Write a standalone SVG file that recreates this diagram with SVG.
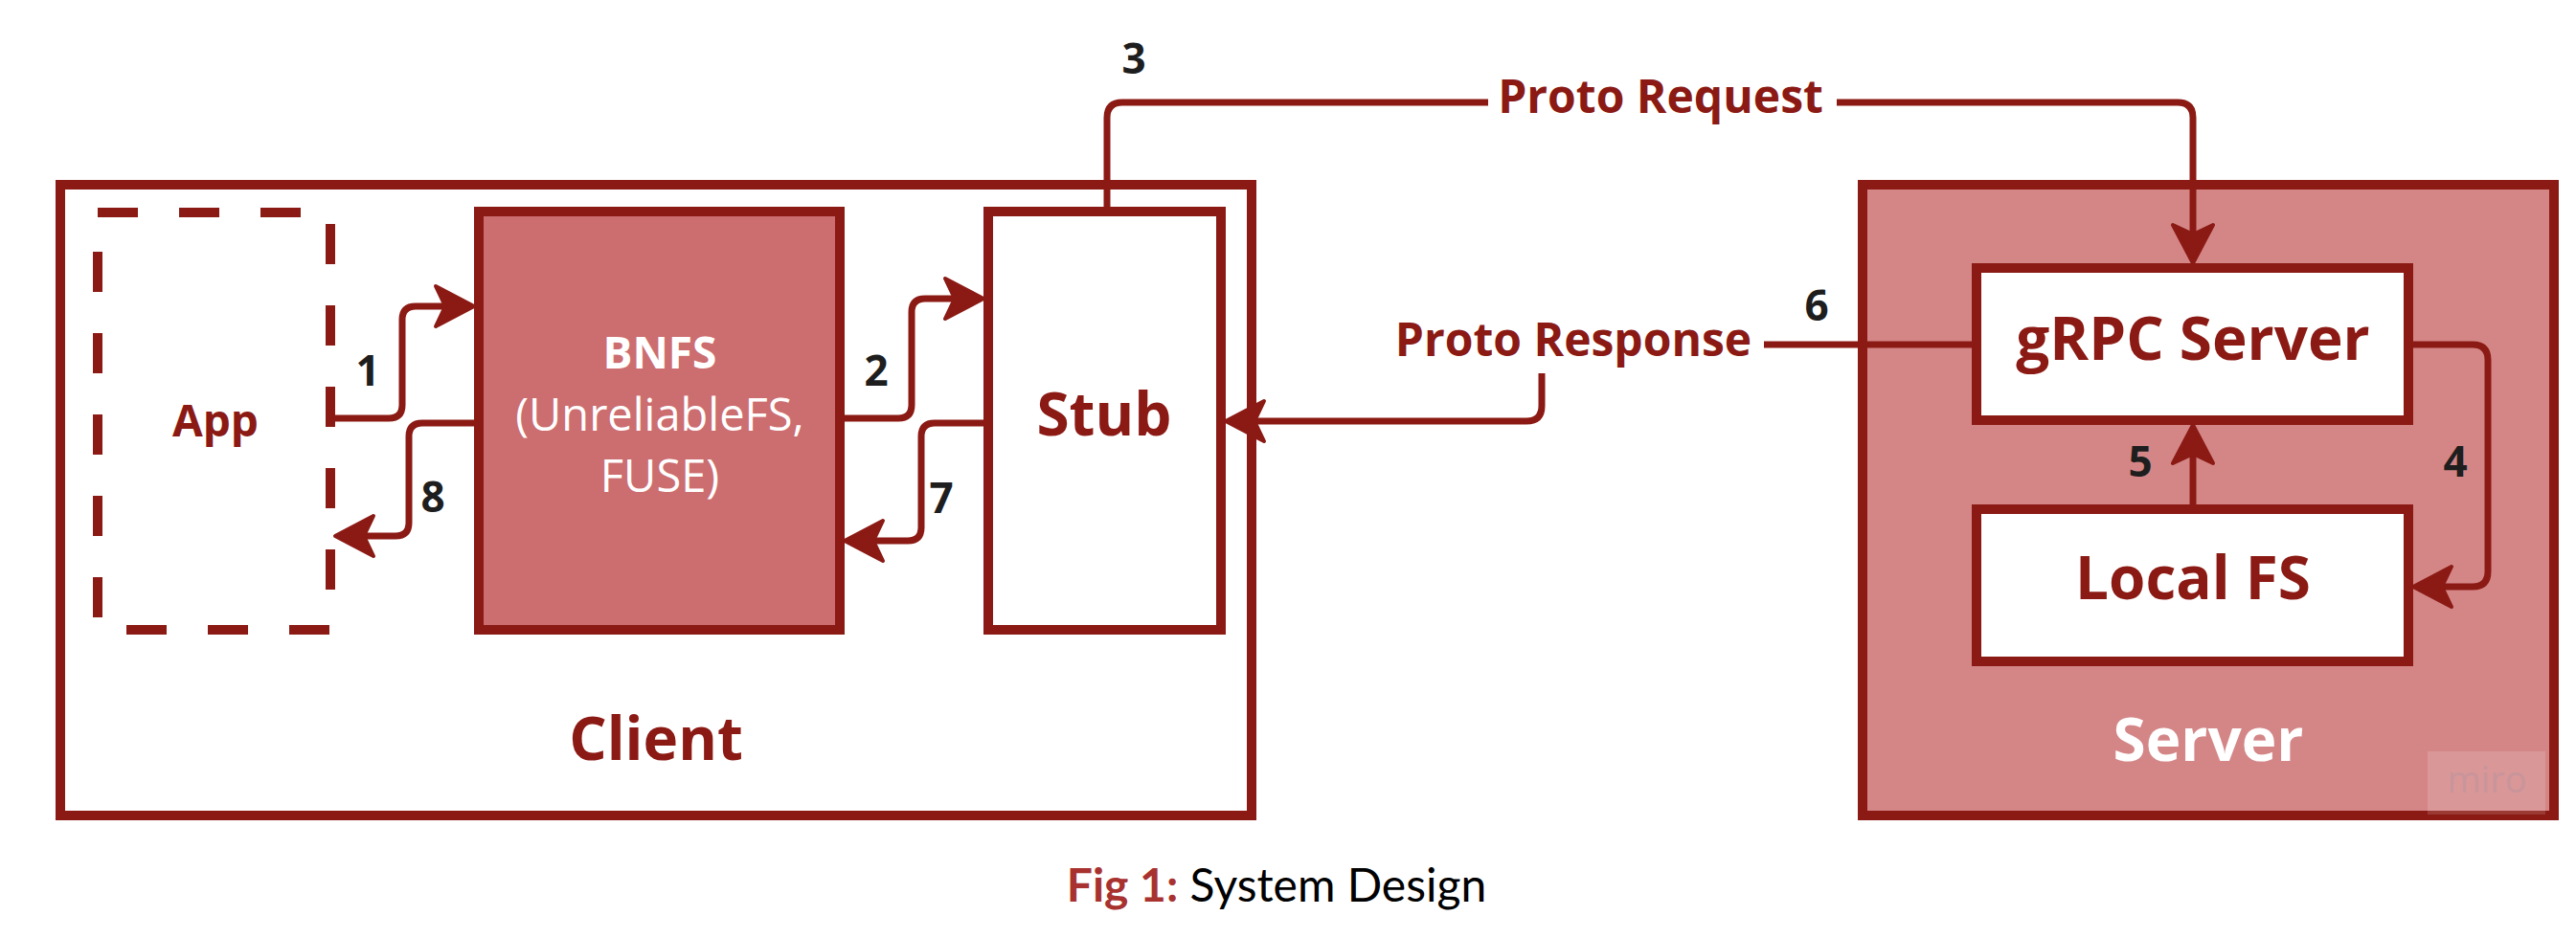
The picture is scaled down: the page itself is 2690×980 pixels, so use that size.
<svg xmlns="http://www.w3.org/2000/svg" width="2690" height="980" viewBox="0 0 2690 980">
<style>
.box{stroke:#8b1a14;stroke-width:10}
.conn{fill:none;stroke:#8b1a14;stroke-width:7;stroke-linejoin:round}
.t{font-family:"Open Sans","Liberation Sans",sans-serif;font-weight:700;text-anchor:middle}
.red{fill:#8b1a14}
.white{fill:#ffffff}
.num{fill:#1e1e1e;font-size:44px}
.big{font-size:62px}
.mid{font-size:46px}
.lbl{font-size:48px;fill:#8b1a14}
</style>
<defs>
<marker id="arrow" viewBox="-46 -26 50 52" markerWidth="50" markerHeight="52" refX="-28" refY="0" orient="auto" markerUnits="userSpaceOnUse">
<path d="M0,0 L-40,-21 L-30,0 L-40,21 Z" fill="#8b1a14" stroke="#8b1a14" stroke-width="4" stroke-linejoin="round"/>
</marker>
</defs>
<rect width="2690" height="980" fill="#ffffff"/>

<g id="client">
<rect class="box" x="63" y="193" width="1244" height="659" fill="#ffffff"/>
<text class="t big red" x="685" y="794">Client</text>
</g>
<g id="app">
<rect class="box" x="102" y="222" width="243" height="436" fill="#ffffff" stroke-dasharray="42 43"/>
<text class="t mid red" x="225" y="456">App</text>
</g>
<g id="bnfs">
<rect class="box" x="500" y="221" width="377" height="437" fill="#cc6d70"/>
<text class="t mid white" x="689" y="385">BNFS</text>
<text class="t white" x="689" y="450" style="font-weight:400;font-size:47px">(UnreliableFS,</text>
<text class="t white" x="689" y="514" style="font-weight:400;font-size:47px">FUSE)</text>
</g>
<g id="stub">
<rect class="box" x="1032" y="221" width="243" height="437" fill="#ffffff"/>
<text class="t big red" x="1153" y="455">Stub</text>
</g>
<g id="server">
<rect class="box" x="1945" y="193" width="722" height="659" fill="#d48687"/>
<rect x="2535" y="785" width="123" height="66" fill="#ffffff" fill-opacity="0.14"/>
<text x="2597" y="828" style="font-family:'Open Sans','Liberation Sans',sans-serif;font-size:38px;text-anchor:middle" fill="#c8959b">miro</text>
<text class="t big white" x="2306" y="795">Server</text>
</g>
<g id="grpc">
<rect class="box" x="2064" y="280" width="451" height="159" fill="#ffffff"/>
<text class="t big red" x="2290" y="376">gRPC Server</text>
</g>
<g id="localfs">
<rect class="box" x="2064" y="532" width="451" height="159" fill="#ffffff"/>
<text class="t big red" x="2290" y="626">Local FS</text>
</g>

<g id="connectors">
<path class="conn" marker-end="url(#arrow)" d="M350,437 H406 Q420,437 420,423 V334 Q420,320 434,320 H467"/>
<path class="conn" marker-end="url(#arrow)" d="M495,442 H441 Q427,442 427,456 V546 Q427,560 413,560 H378"/>
<path class="conn" marker-end="url(#arrow)" d="M882,437 H938 Q952,437 952,423 V326 Q952,312 966,312 H999"/>
<path class="conn" marker-end="url(#arrow)" d="M1027,442 H976 Q962,442 962,456 V551 Q962,565 948,565 H910"/>
<path class="conn" marker-end="url(#arrow)" d="M1156,216 V123 Q1156,107 1172,107 H2274 Q2290,107 2290,123 V247"/>
<path class="conn" marker-end="url(#arrow)" d="M2059,360 H1626 Q1610,360 1610,376 V424 Q1610,440 1594,440 H1308"/>
<path class="conn" marker-end="url(#arrow)" d="M2520,360 H2582 Q2598,360 2598,376 V597 Q2598,613 2582,613 H2548"/>
<path class="conn" marker-end="url(#arrow)" d="M2290,527 V472"/>
</g>

<g id="labels">
<rect x="1554" y="70" width="364" height="70" fill="#ffffff"/>
<text class="t lbl" x="1734" y="118">Proto Request</text>
<rect x="1452" y="322" width="390" height="68" fill="#ffffff"/>
<text class="t lbl" x="1643" y="372">Proto Response</text>
<text class="t num" x="384" y="403">1</text>
<text class="t num" x="915" y="403">2</text>
<text class="t num" x="1184" y="77">3</text>
<text class="t num" x="2564" y="498">4</text>
<text class="t num" x="2235" y="498">5</text>
<text class="t num" x="1897" y="335">6</text>
<text class="t num" x="983" y="536">7</text>
<text class="t num" x="452" y="535">8</text>
</g>

<g id="caption">
<text x="1333" y="942" style="font-family:Lato,'Liberation Sans',sans-serif;font-size:48px;text-anchor:middle"><tspan fill="#a8322f" font-weight="700">Fig 1:</tspan><tspan fill="#000000"> System Design</tspan></text>
</g>
</svg>
